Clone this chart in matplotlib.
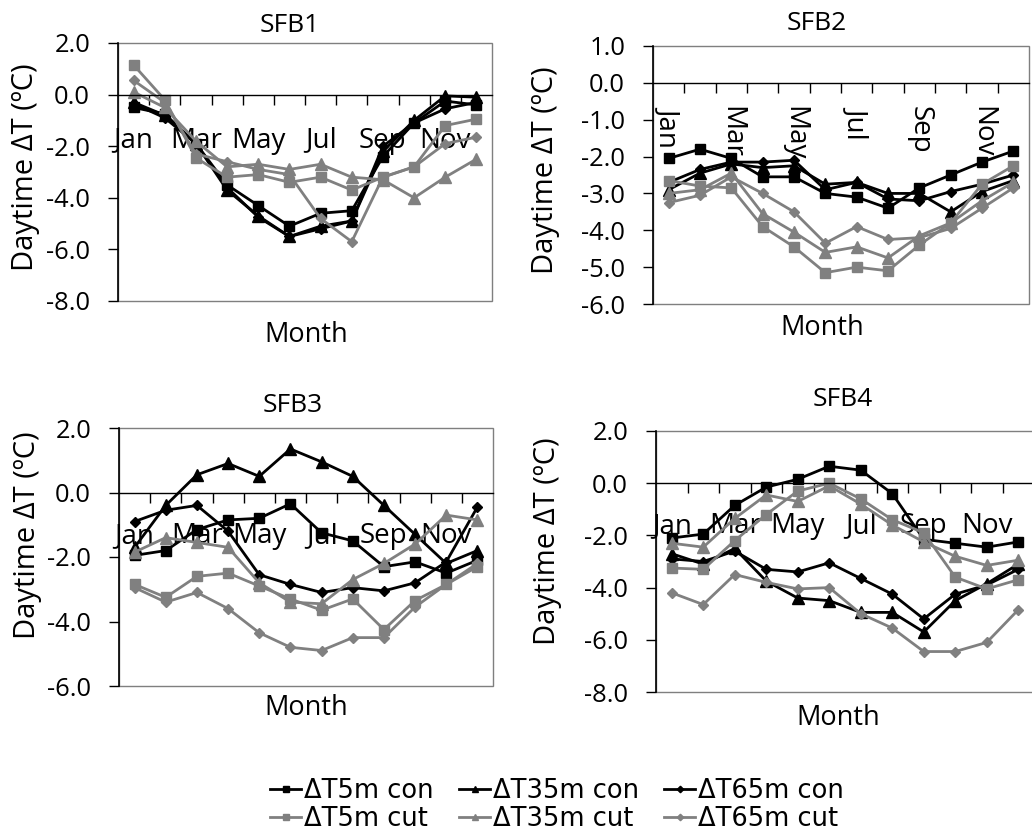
import matplotlib
matplotlib.use("Agg")
import matplotlib.pyplot as plt
from matplotlib.patches import Rectangle
from matplotlib.ticker import FormatStrFormatter, MultipleLocator

plt.rcParams['axes.unicode_minus'] = False
plt.rcParams['font.family'] = ['Open Sans', 'DejaVu Sans']

W, H = 1032, 834

months = ["Jan", "Feb", "Mar", "Apr", "May", "Jun",
          "Jul", "Aug", "Sep", "Oct", "Nov", "Dec"]
series_names = ["ΔT5m con", "ΔT35m con", "ΔT65m con",
                "ΔT5m cut", "ΔT35m cut", "ΔT65m cut"]

# SFB1
sfb1_con5 = [-0.5, -0.75, -1.9, -3.5, -4.3, -5.1, -4.6, -4.5, -2.4, -1.1, -0.25, -0.4]
sfb1_con35 = [-0.3, -0.8, -1.9, -3.7, -4.7, -5.5, -5.1, -4.9, -2.2, -1.0, -0.05, -0.1]
sfb1_con65 = [-0.35, -0.9, -1.9, -3.6, -4.75, -5.5, -5.2, -4.9, -2.0, -1.1, -0.55, -0.3]
sfb1_cut5 = [1.15, -0.2, -2.45, -3.2, -3.1, -3.4, -3.2, -3.7, -3.2, -2.8, -1.2, -0.95]
sfb1_cut35 = [0.1, -0.5, -1.8, -2.8, -2.7, -2.9, -2.7, -3.2, -3.3, -4.0, -3.2, -2.5]
sfb1_cut65 = [0.55, -0.3, -2.3, -2.6, -2.9, -3.1, -4.8, -5.7, -3.2, -2.8, -1.9, -1.65]

# SFB2
sfb2_con5 = [-2.05, -1.8, -2.05, -2.55, -2.55, -3.0, -3.1, -3.4, -2.85, -2.5, -2.15, -1.85]
sfb2_con35 = [-2.9, -2.45, -2.2, -2.3, -2.25, -2.75, -2.7, -3.0, -3.0, -3.5, -2.95, -2.65]
sfb2_con65 = [-2.7, -2.35, -2.15, -2.15, -2.1, -2.9, -2.7, -3.15, -3.2, -2.95, -2.75, -2.5]
sfb2_cut5 = [-2.65, -2.8, -2.85, -3.9, -4.45, -5.15, -5.0, -5.1, -4.4, -3.8, -2.75, -2.25]
sfb2_cut35 = [-3.0, -2.9, -2.45, -3.55, -4.05, -4.6, -4.45, -4.75, -4.15, -3.8, -3.2, -2.7]
sfb2_cut65 = [-3.25, -3.05, -2.55, -3.0, -3.5, -4.35, -3.9, -4.25, -4.2, -3.95, -3.4, -2.85]

# SFB3
sfb3_con5 = [-1.95, -1.8, -1.15, -0.85, -0.8, -0.35, -1.25, -1.5, -2.3, -2.15, -2.5, -2.1]
sfb3_con35 = [-1.7, -0.4, 0.55, 0.9, 0.5, 1.35, 0.95, 0.5, -0.4, -1.3, -2.2, -1.8]
sfb3_con65 = [-0.9, -0.55, -0.4, -1.2, -2.55, -2.85, -3.1, -2.95, -3.05, -2.8, -2.15, -0.45]
sfb3_cut5 = [-2.85, -3.25, -2.6, -2.5, -2.9, -3.3, -3.65, -3.3, -4.25, -3.35, -2.85, -2.3]
sfb3_cut35 = [-1.85, -1.4, -1.55, -1.7, -2.8, -3.4, -3.45, -2.7, -2.2, -1.6, -0.7, -0.85]
sfb3_cut65 = [-2.95, -3.4, -3.1, -3.6, -4.35, -4.8, -4.9, -4.5, -4.5, -3.55, -2.85, -2.2]

# SFB4
sfb4_con5 = [-2.1, -1.95, -0.85, -0.15, 0.15, 0.65, 0.5, -0.4, -2.15, -2.3, -2.45, -2.25]
sfb4_con35 = [-2.7, -3.1, -2.5, -3.75, -4.4, -4.5, -4.95, -4.95, -5.7, -4.5, -3.85, -3.1]
sfb4_con65 = [-2.9, -3.0, -2.6, -3.3, -3.4, -3.05, -3.65, -4.25, -5.2, -4.25, -3.9, -3.3]
sfb4_cut5 = [-3.25, -3.3, -2.2, -1.2, -0.3, 0.0, -0.6, -1.4, -1.9, -3.6, -4.05, -3.7]
sfb4_cut35 = [-2.3, -2.45, -1.35, -0.45, -0.7, -0.1, -0.8, -1.6, -2.25, -2.8, -3.15, -2.95]
sfb4_cut65 = [-4.2, -4.65, -3.5, -3.8, -4.05, -4.0, -5.0, -5.55, -6.45, -6.45, -6.1, -4.85]

panels = [
    ("SFB1", [sfb1_con5, sfb1_con35, sfb1_con65, sfb1_cut5, sfb1_cut35, sfb1_cut65]),
    ("SFB2", [sfb2_con5, sfb2_con35, sfb2_con65, sfb2_cut5, sfb2_cut35, sfb2_cut65]),
    ("SFB3", [sfb3_con5, sfb3_con35, sfb3_con65, sfb3_cut5, sfb3_cut35, sfb3_cut65]),
    ("SFB4", [sfb4_con5, sfb4_con35, sfb4_con65, sfb4_cut5, sfb4_cut35, sfb4_cut65]),
]

# layout in pixels: axes box (left, top, right, bottom), y range, y step,
# title / ylabel / xlabel centres, rotated month labels
layout = [
    dict(box=(118, 43, 492, 301), ylim=(-8, 2), step=2, title=(290, 25),
         ylab=(26, 167), xlab=(306, 335), rot=False, pad=23),
    dict(box=(653, 46, 1029, 304), ylim=(-6, 1), step=1, title=(817, 23),
         ylab=(545, 170), xlab=(822, 328), rot=True, pad=17),
    dict(box=(119, 428, 493, 686), ylim=(-6, 2), step=2, title=(293, 405),
         ylab=(28, 535), xlab=(306, 708), rot=False, pad=21),
    dict(box=(656, 431, 1034, 692), ylim=(-8, 2), step=2, title=(843, 400),
         ylab=(547, 541), xlab=(838, 718), rot=False, pad=21),
]

colors = ["black", "black", "black", "#808080", "#808080", "#808080"]
markers = ["s", "^", "D", "s", "^", "D"]
msizes = [7.5, 8, 5.5, 7.5, 8, 5.5]

fig = plt.figure(figsize=(W / 100, H / 100), dpi=100)
x = list(range(12))
handles = []

for (title, data), lay in zip(panels, layout):
    l, t, r, b = lay["box"]
    ax = fig.add_axes([l / W, 1 - b / H, (r - l) / W, (b - t) / H])
    lines = []
    for vals, c, m, ms in zip(data, colors, markers, msizes):
        ln, = ax.plot(x, vals, color=c, marker=m, markersize=ms, lw=2,
                      markeredgecolor=c, clip_on=False)
        lines.append(ln)
    handles = lines

    ax.set_xlim(-0.5, 11.5)
    ax.set_ylim(*lay["ylim"])
    ax.yaxis.set_major_locator(MultipleLocator(lay["step"]))
    ax.yaxis.set_major_formatter(FormatStrFormatter("%.1f"))
    ax.tick_params(axis="y", direction="out", length=7, width=1,
                   labelsize=18.4, pad=13)

    # category axis crossing at zero
    ax.spines["bottom"].set_position(("data", 0))
    ax.spines["top"].set_visible(False)
    ax.spines["right"].set_visible(False)
    ax.spines["left"].set_linewidth(1.2)
    ax.spines["bottom"].set_linewidth(1)
    ax.add_patch(Rectangle((0, 0), 1, 1, transform=ax.transAxes, fill=False,
                           edgecolor="#7f7f7f", lw=1, clip_on=False, zorder=0.5))

    ax.set_xticks(x[::2])
    ax.set_xticklabels(months[::2])
    ax.set_xticks([i + 0.5 for i in range(11)], minor=True)
    ax.tick_params(axis="x", which="major", length=0, labelsize=20,
                   pad=lay["pad"])
    ax.tick_params(axis="x", which="minor", direction="out", length=7, width=1)
    if lay["rot"]:
        for lab in ax.get_xticklabels():
            lab.set_rotation(-90)
            lab.set_va("top")

    fig.text(lay["title"][0] / W, 1 - lay["title"][1] / H, title,
             ha="center", va="center", fontsize=19)
    fig.text(lay["ylab"][0] / W, 1 - lay["ylab"][1] / H, "Daytime ΔT (ºC)",
             ha="center", va="center", rotation=90, fontsize=21)
    fig.text(lay["xlab"][0] / W, 1 - lay["xlab"][1] / H, "Month",
             ha="center", va="center", fontsize=19.5)

order = [0, 3, 1, 4, 2, 5]
leg = fig.legend([handles[i] for i in order], [series_names[i] for i in order],
                 ncol=3, loc="center", bbox_to_anchor=(557 / W, 1 - 805 / H),
                 frameon=False, prop={"family": "DejaVu Sans", "size": 18.5},
                 handlelength=1.2, handletextpad=0.1, columnspacing=1.0,
                 labelspacing=0.05, borderpad=0, markerscale=0.6)
for ln in leg.get_lines():
    ln.set_linewidth(2)

fig.savefig("out.png", dpi=100)
